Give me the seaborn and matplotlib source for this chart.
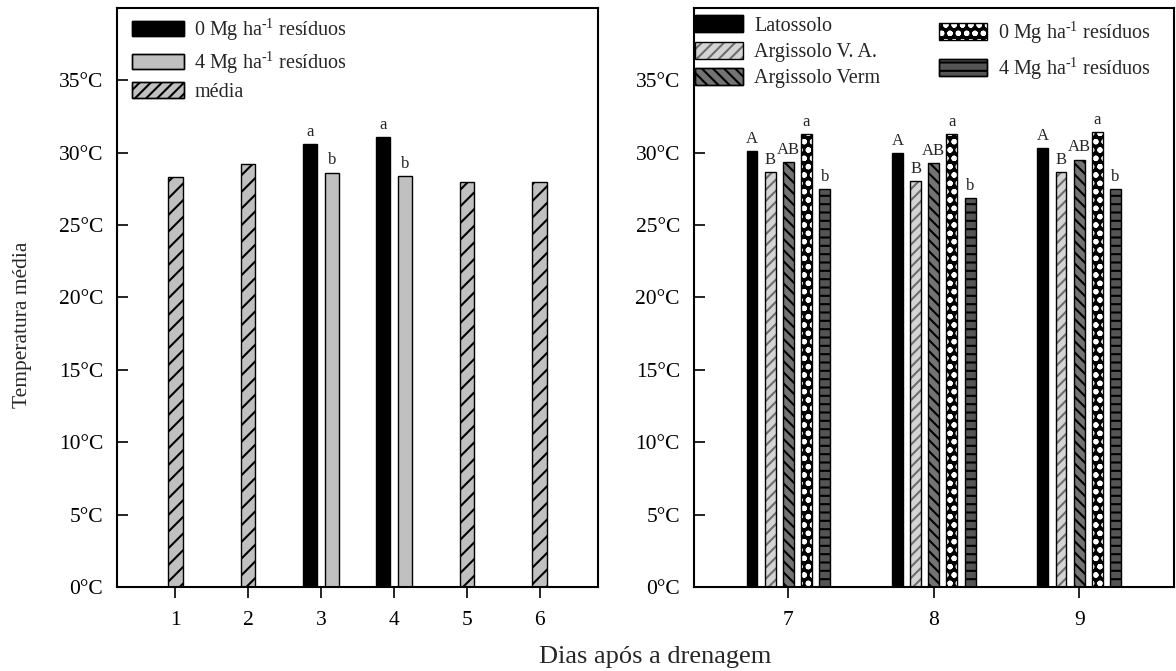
import numpy as np
import pandas as pd
import matplotlib
matplotlib.use("Agg")
import matplotlib.pyplot as plt
import seaborn as sns
from matplotlib.patches import Patch, Rectangle
from matplotlib.legend_handler import HandlerTuple

# ---------------- data ----------------
days_mean = [1, 2, 5, 6]
temp_mean = [28.3, 29.25, 27.95, 27.95]
days_res = [3, 4]
temp_0mg = [30.62, 31.08]
temp_4mg = [28.62, 28.39]
letters_0mg = ["a", "a"]
letters_4mg = ["b", "b"]
left_ticks = [1, 2, 3, 4, 5, 6]

SUP = "$^{\u2010 1}$"
days_right = ["7", "8", "9"]
series_right = ["Latossolo", "Argissolo V. A.", "Argissolo Verm",
                f"0 Mg ha{SUP} resíduos", f"4 Mg ha{SUP} resíduos"]
temp_latossolo = [30.1, 30.0, 30.32]
temp_arg_va = [28.66, 28.02, 28.66]
temp_arg_verm = [29.35, 29.28, 29.52]
temp_r_0mg = [31.3, 31.3, 31.42]
temp_r_4mg = [27.47, 26.85, 27.47]
letters_right = ["A", "B", "AB", "a", "b"]

yticks = [0, 5, 10, 15, 20, 25, 30, 35]
ytick_labels = [f"{v}°C" for v in yticks]
left_legend_labels = [f"0 Mg ha{SUP} resíduos", f"4 Mg ha{SUP} resíduos", "média"]

# ---------------- style ----------------
sns.set_style("ticks")
plt.rcParams["font.family"] = ["Liberation Serif", "DejaVu Serif"]
plt.rcParams["mathtext.fontset"] = "custom"
plt.rcParams["mathtext.rm"] = "Liberation Serif"
plt.rcParams["mathtext.it"] = "Liberation Serif:italic"
plt.rcParams["hatch.linewidth"] = 1.5

fig = plt.figure(figsize=(11.76, 6.71), dpi=100)
ax1 = fig.add_axes([0.0995, 0.1252, 0.409, 0.863])
ax2 = fig.add_axes([0.590, 0.1252, 0.408, 0.863])

LW = 1.0
GRAY = "#c0c0c0"

def outline(ax, patches):
    for p in patches:
        ax.add_patch(Rectangle(p.get_xy(), p.get_width(), p.get_height(),
                               fill=False, edgecolor="black", linewidth=LW,
                               zorder=p.get_zorder() + 0.1))

def letters(ax, patches, labels, size):
    for p, lab in zip(patches, labels):
        ax.annotate(lab, (p.get_x() + p.get_width() / 2, p.get_height()),
                    xytext=(0, 3), textcoords="offset points",
                    ha="center", va="bottom", fontsize=size)

# ---------------- left panel ----------------
df_mean = pd.DataFrame({"dia": days_mean, "temp": temp_mean})
sns.barplot(data=df_mean, x="dia", y="temp", native_scale=True, width=0.2,
            color=GRAY, saturation=1, errorbar=None, ax=ax1,
            edgecolor="black", linewidth=LW, hatch="//")
df0 = pd.DataFrame({"dia": np.array(days_res) - 0.15, "temp": temp_0mg})
sns.barplot(data=df0, x="dia", y="temp", native_scale=True, width=0.2,
            color="black", saturation=1, errorbar=None, ax=ax1,
            edgecolor="black", linewidth=LW)
df4 = pd.DataFrame({"dia": np.array(days_res) + 0.15, "temp": temp_4mg})
sns.barplot(data=df4, x="dia", y="temp", native_scale=True, width=0.2,
            color=GRAY, saturation=1, errorbar=None, ax=ax1,
            edgecolor="black", linewidth=LW)
letters(ax1, ax1.containers[1], letters_0mg, 12)
letters(ax1, ax1.containers[2], letters_4mg, 12)
ax1.set_xlim(0.2, 6.8)
ax1.set_xticks(left_ticks)
ax1.set_xticklabels([str(d) for d in left_ticks])

# ---------------- right panel ----------------
values = [temp_latossolo, temp_arg_va, temp_arg_verm, temp_r_0mg, temp_r_4mg]
df_r = pd.DataFrame({
    "dia": np.tile(days_right, len(series_right)),
    "serie": np.repeat(series_right, len(days_right)),
    "temp": np.concatenate(values),
})
faces = ["black", "#d4d4d4", "#737373", "black", "#555555"]
hatch_cols = ["black", "#6e6e6e", "black", "white", "black"]
hatches = [None, "///", "\\\\\\", "oo..", "--"]
sns.barplot(data=df_r, x="dia", y="temp", hue="serie", hue_order=series_right,
            order=days_right, palette=dict(zip(series_right, faces)),
            saturation=1, errorbar=None, dodge=True, width=0.625, gap=0.4,
            legend=False, ax=ax2)
for cont, hc, h, lab in zip(ax2.containers, hatch_cols, hatches, letters_right):
    for p in cont:
        p.set_edgecolor(hc)
        p.set_linewidth(0 if hc != "black" else LW)
        if h:
            p.set_hatch(h)
    if hc != "black":
        outline(ax2, cont)
    letters(ax2, cont, [lab] * len(cont), 12)
ax2.set_xlim(-0.65, 2.65)

# ---------------- common axes styling ----------------
for ax in (ax1, ax2):
    ax.set_ylim(0, 40)
    ax.set_yticks(yticks)
    ax.set_yticklabels(ytick_labels)
    ax.set_xlabel("")
    ax.set_ylabel("")
    for s in ax.spines.values():
        s.set_visible(True)
        s.set_linewidth(1.5)
        s.set_color("black")
    ax.tick_params(axis="y", direction="in", length=8, width=1.2,
                   labelsize=15.5, pad=10, colors="black")
    ax.tick_params(axis="x", direction="out", length=8, width=1.2,
                   labelsize=15.5, pad=9, colors="black")

# ---------------- legends ----------------
def hpair(face, hc, hatch=None):
    return (Patch(facecolor=face, edgecolor=hc, hatch=hatch,
                  linewidth=0 if hc != "black" else LW),
            Patch(fill=False, edgecolor="black", linewidth=LW))

HM = {tuple: HandlerTuple(ndivide=1)}
left_handles = [hpair("black", "black"), hpair(GRAY, "black"), hpair(GRAY, "black", "///")]
ax1.legend(left_handles, left_legend_labels, loc="upper left",
           bbox_to_anchor=(0.031, 0.985), frameon=False, fontsize=14.5,
           handlelength=2.6, handleheight=0.8, handletextpad=0.5,
           labelspacing=0.33, borderpad=0, borderaxespad=0, handler_map=HM)

r_handles = [hpair(f, hc, h) for f, hc, h in zip(faces, hatch_cols, hatches)]
leg1 = ax2.legend(r_handles[:3], series_right[:3], loc="upper left",
                  bbox_to_anchor=(0.002, 0.987), frameon=False, fontsize=14.5,
                  handlelength=2.4, handleheight=0.9, handletextpad=0.55,
                  labelspacing=0.3, borderpad=0, borderaxespad=0, handler_map=HM)
ax2.add_artist(leg1)
ax2.legend(r_handles[3:], series_right[3:], loc="upper left",
           bbox_to_anchor=(0.51, 0.98), frameon=False, fontsize=14.5,
           handlelength=2.4, handleheight=0.9, handletextpad=0.55,
           labelspacing=0.5, borderpad=0, borderaxespad=0, handler_map=HM)

# ---------------- axis titles ----------------
fig.text(0.557, 0.021, "Dias após a drenagem", ha="center", va="center", fontsize=19)
fig.text(0.019, 0.516, "Temperatura média", ha="center", va="center",
         rotation=90, fontsize=15.5)

fig.savefig("out.png", dpi=100)
